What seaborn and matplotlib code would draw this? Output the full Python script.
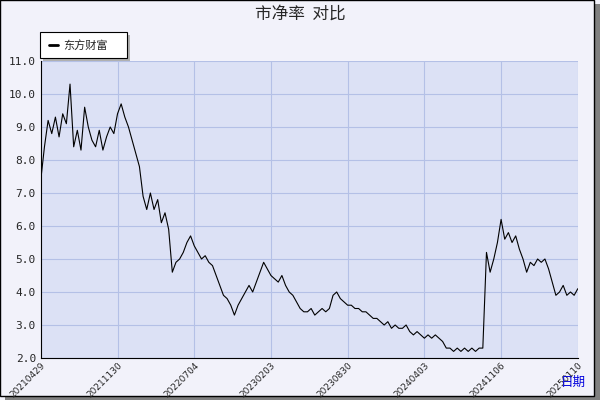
import matplotlib.pyplot as plt
import seaborn as sns
from matplotlib.patches import Rectangle

# 市净率 values, roughly one every 3.65 px
pb_values = [
    7.4, 8.4, 9.2, 8.8, 9.3, 8.7, 9.4, 9.1, 10.3, 8.4, 8.9, 8.3,
    9.6, 9.0, 8.6, 8.4, 8.9, 8.3, 8.7, 9.0, 8.8, 9.4, 9.7, 9.3,
    9.0, 8.6, 8.2, 7.8, 6.9, 6.5, 7.0, 6.5, 6.8, 6.1, 6.4, 5.9,
    4.6, 4.9, 5.0, 5.2, 5.5, 5.7, 5.4, 5.2, 5.0, 5.1, 4.9, 4.8,
    4.5, 4.2, 3.9, 3.8, 3.6, 3.3, 3.6, 3.8, 4.0, 4.2, 4.0, 4.3,
    4.6, 4.9, 4.7, 4.5, 4.4, 4.3, 4.5, 4.2, 4.0, 3.9, 3.7, 3.5,
    3.4, 3.4, 3.5, 3.3, 3.4, 3.5, 3.4, 3.5, 3.9, 4.0, 3.8, 3.7,
    3.6, 3.6, 3.5, 3.5, 3.4, 3.4, 3.3, 3.2, 3.2, 3.1, 3.0, 3.1,
    2.9, 3.0, 2.9, 2.9, 3.0, 2.8, 2.7, 2.8, 2.7, 2.6, 2.7, 2.6,
    2.7, 2.6, 2.5, 2.3, 2.3, 2.2, 2.3, 2.2, 2.3, 2.2, 2.3, 2.2,
    2.3, 2.3, 5.2, 4.6, 5.0, 5.5, 6.2, 5.6, 5.8, 5.5, 5.7, 5.3,
    5.0, 4.6, 4.9, 4.8, 5.0, 4.9, 5.0, 4.7, 4.3, 3.9, 4.0, 4.2,
    3.9, 4.0, 3.9, 4.1,
]
tick_labels = ["20210429", "20211130", "20220704", "20230203",
               "20230830", "20240403", "20241106", "20250110"]
series_name = "东方财富"

x = list(range(len(pb_values)))
n = len(pb_values) - 1
tick_pos = [n * i / (len(tick_labels) - 1) for i in range(len(tick_labels))]

sns.set_style("white")
# seaborn resets the font family, so set it afterwards
plt.rcParams["font.family"] = "sans-serif"
plt.rcParams["font.sans-serif"] = ["Noto Sans CJK SC", "DejaVu Sans"]

fig = plt.figure(figsize=(6, 4), dpi=100, facecolor="#f2f2fa")
# outer border with shadow
fig.patches.append(Rectangle((0.008, 0.0), 0.992, 0.99, transform=fig.transFigure,
                             facecolor="#808080", edgecolor="none", zorder=-2))
fig.patches.append(Rectangle((0.0, 0.01), 0.99, 0.99, transform=fig.transFigure,
                             facecolor="#f2f2fa", edgecolor="black", lw=1, zorder=-1))

ax = fig.add_axes([0.068, 0.105, 0.895, 0.7425])
ax.set_facecolor("#dce1f5")
sns.lineplot(x=x, y=pb_values, ax=ax, color="black", lw=0.8)
ax.set_xlim(0, n)
ax.set_ylim(2.0, 11.0)
ax.set_yticks([2 + i for i in range(10)])
ax.set_yticklabels([f"{2 + i:.1f}" for i in range(10)], fontfamily="DejaVu Sans Mono", fontsize=8)
ax.set_yticks([2.5 + i for i in range(9)], minor=True)
ax.set_xticks(tick_pos)
ax.set_xticklabels(tick_labels, rotation=45, ha="right", rotation_mode="anchor",
                   fontsize=6.5, fontfamily="DejaVu Sans")
ax.grid(True, color="#b4c0e6", lw=0.8)
ax.tick_params(axis="both", which="both", direction="in", length=4, color="black")
ax.tick_params(axis="x", pad=2)
ax.tick_params(axis="y", which="minor", length=2)
for side in ["top", "right"]:
    ax.spines[side].set_visible(False)
ax.spines["left"].set_color("black")
ax.spines["bottom"].set_color("black")

fig.text(0.5, 0.965, "市净率  对比", ha="center", va="center", fontsize=12)
fig.text(0.955, 0.045, "日期", ha="center", va="center", fontsize=9, color="#0000dd")

# legend box
fig.patches.append(Rectangle((0.072, 0.848), 0.145, 0.065, transform=fig.transFigure,
                             facecolor="#b0b0b0", edgecolor="none"))
fig.patches.append(Rectangle((0.067, 0.855), 0.145, 0.065, transform=fig.transFigure,
                             facecolor="white", edgecolor="black", lw=0.8))
fig.lines.append(plt.Line2D([0.082, 0.097], [0.8875, 0.8875], transform=fig.transFigure,
                            color="black", lw=2))
fig.text(0.105, 0.8875, series_name, va="center", fontsize=8)

fig.savefig("out.png", dpi=100, facecolor=fig.get_facecolor())
